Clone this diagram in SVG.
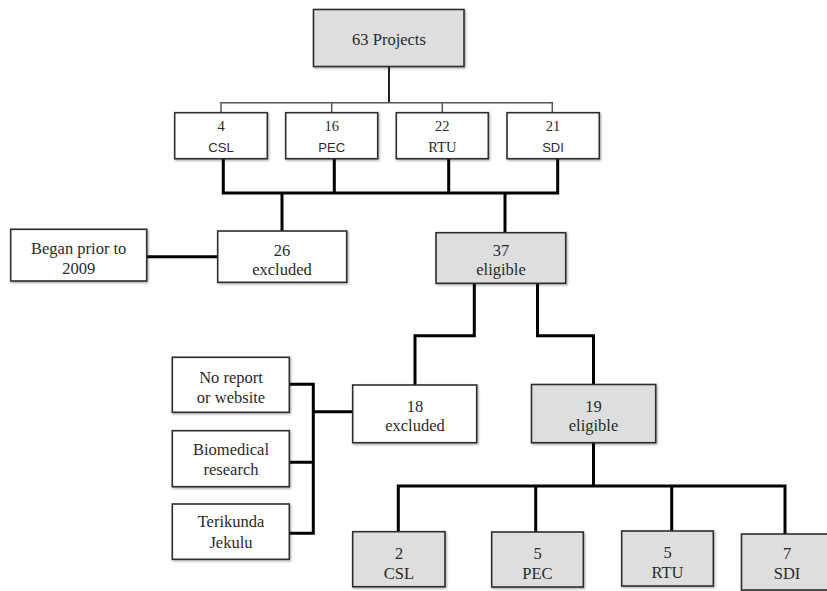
<svg xmlns="http://www.w3.org/2000/svg" width="827" height="591" viewBox="0 0 827 591">
<defs>
<filter id="sh" x="-10%" y="-10%" width="130%" height="130%">
<feDropShadow dx="1" dy="1.2" stdDeviation="0.9" flood-color="#000" flood-opacity="0.35"/>
</filter>
<style>
.box{fill:#ffffff;stroke:#2e2e2e;stroke-width:1.6;filter:url(#sh)}
.gbox{fill:#dedede;stroke:#2e2e2e;stroke-width:1.6;filter:url(#sh)}
.t{font-family:"Liberation Serif","Times New Roman",serif;font-size:16.5px;fill:#2a2a2a;text-anchor:middle}
.n{font-family:"Liberation Serif","Times New Roman",serif;font-size:14.5px;fill:#2a2a2a;text-anchor:middle}
.s{font-family:"Liberation Sans",Arial,sans-serif;font-size:13px;fill:#2a2a2a;text-anchor:middle}
.c{fill:none;stroke:#000;stroke-width:3;stroke-linejoin:miter}
.thin{fill:none;stroke:#555;stroke-width:1.5}
</style>
</defs>
<rect width="827" height="591" fill="#ffffff"/>
<g id="connectors">
<path class="c" d="M389,67 V103" style="stroke-width:2;stroke:#222"/>
<path class="thin" d="M221,112.7 V102.7 H552.3 V112.7 M331.7,102.7 V112.7 M442.3,102.7 V112.7"/>
<path class="c" d="M223.3,158.7 V193 H557.7 V158.7 M334.3,158.7 V193 M448.7,158.7 V193 M282,193 V231 M505,193 V232.7"/>
<path class="c" d="M146.7,256.7 H217.7"/>
<path class="c" d="M474.3,283.3 V335.7 H415 V385"/>
<path class="c" d="M537.5,283.3 V335.7 H593.5 V384.5"/>
<path class="c" d="M289.3,384.3 H313.3 V533.3 H289.3 M289.3,462.3 H313.3 M313.3,411.7 H352.7"/>
<path class="c" d="M593.5,442.7 V486 M398.3,531.7 V486 H785 V534 M535.7,486 V532 M671.7,486 V531"/>
</g>
<g id="n63">
<rect class="gbox" x="313.5" y="9.5" width="150.5" height="57"/>
<text class="t" x="389" y="45">63 Projects</text>
</g>
<g id="r1csl">
<rect class="box" x="174.7" y="112.7" width="92.6" height="46"/>
<text class="n" x="221" y="130.5">4</text>
<text class="s" x="221" y="151.5">CSL</text>
</g>
<g id="r1pec">
<rect class="box" x="285.7" y="112.7" width="92" height="46"/>
<text class="n" x="331.7" y="130.5">16</text>
<text class="s" x="331.7" y="151.5">PEC</text>
</g>
<g id="r1rtu">
<rect class="box" x="396.3" y="112.7" width="92" height="46"/>
<text class="n" x="442.3" y="130.5">22</text>
<text class="n" x="442.3" y="151.5">RTU</text>
</g>
<g id="r1sdi">
<rect class="box" x="507" y="112.7" width="92.3" height="46"/>
<text class="n" x="553" y="130.5">21</text>
<text class="s" x="553" y="151.5">SDI</text>
</g>
<g id="began">
<rect class="box" x="10.7" y="229.3" width="136" height="51.7"/>
<text class="t" x="78.7" y="254">Began prior to</text>
<text class="t" x="78.7" y="274">2009</text>
</g>
<g id="ex26">
<rect class="box" x="217.7" y="231" width="129" height="51.3"/>
<text class="t" x="282" y="256">26</text>
<text class="t" x="282" y="275">excluded</text>
</g>
<g id="el37">
<rect class="gbox" x="436" y="232.7" width="129.7" height="50.6"/>
<text class="t" x="501" y="256">37</text>
<text class="t" x="501" y="275">eligible</text>
</g>
<g id="noreport">
<rect class="box" x="172.3" y="357.3" width="117" height="55"/>
<text class="t" x="231" y="382.5">No report</text>
<text class="t" x="231" y="402.5">or website</text>
</g>
<g id="biomed">
<rect class="box" x="172.3" y="430.7" width="117" height="56"/>
<text class="t" x="231" y="455">Biomedical</text>
<text class="t" x="231" y="475">research</text>
</g>
<g id="terik">
<rect class="box" x="172.3" y="504" width="117" height="55.3"/>
<text class="t" x="231" y="527.3">Terikunda</text>
<text class="t" x="231" y="548.3">Jekulu</text>
</g>
<g id="ex18">
<rect class="box" x="352.7" y="385" width="124" height="57.7"/>
<text class="t" x="415" y="411.5">18</text>
<text class="t" x="415" y="431">excluded</text>
</g>
<g id="el19">
<rect class="gbox" x="531.5" y="384.5" width="124.2" height="58.2"/>
<text class="t" x="593.5" y="411.5">19</text>
<text class="t" x="593.5" y="431">eligible</text>
</g>
<g id="b2csl">
<rect class="gbox" x="352.7" y="531.7" width="92.3" height="55"/>
<text class="t" x="399" y="559">2</text>
<text class="t" x="399" y="578.5">CSL</text>
</g>
<g id="b5pec">
<rect class="gbox" x="491.7" y="532" width="91.6" height="55"/>
<text class="t" x="537.5" y="559">5</text>
<text class="t" x="537.5" y="578.5">PEC</text>
</g>
<g id="b5rtu">
<rect class="gbox" x="621.7" y="531" width="91.6" height="55"/>
<text class="t" x="667.5" y="558">5</text>
<text class="t" x="667.5" y="577.5">RTU</text>
</g>
<g id="b7sdi">
<rect class="gbox" x="741.5" y="534" width="93" height="56"/>
<text class="t" x="787" y="559">7</text>
<text class="t" x="787" y="578.5">SDI</text>
</g>
</svg>
